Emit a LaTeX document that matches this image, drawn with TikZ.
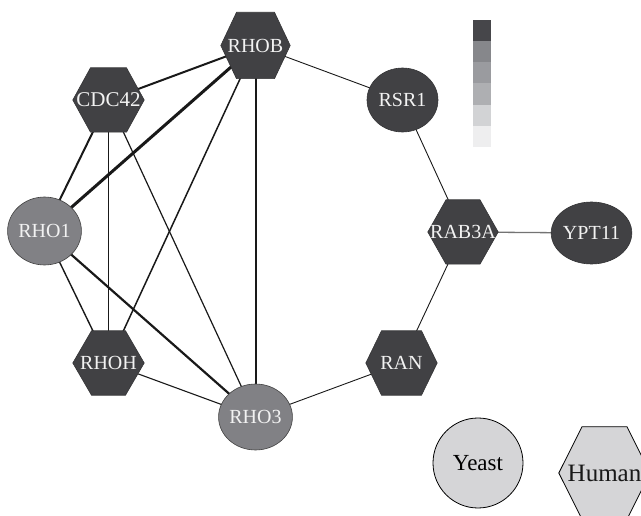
\documentclass[tikz,border=0pt]{standalone}
\usepackage{fontspec}
\setmainfont{Liberation Serif}
\usetikzlibrary{shapes.geometric}
\pgfdeclarelayer{edges}
\pgfdeclarelayer{shapes}
\pgfsetlayers{edges,shapes,main}
\definecolor{darknode}{HTML}{414144}
\definecolor{midnode}{HTML}{818185}
\definecolor{lightnode}{HTML}{D5D5D7}
\definecolor{labelwhite}{HTML}{F2F2F2}
\definecolor{lgA}{HTML}{46464A}
\definecolor{lgB}{HTML}{86878B}
\definecolor{lgC}{HTML}{9A9B9F}
\definecolor{lgD}{HTML}{AEAFB2}
\definecolor{lgE}{HTML}{D2D3D5}
\definecolor{lgF}{HTML}{EEEEEF}
\tikzset{
  hexbox/.style={rectangle, inner sep=0pt, text=labelwhite, font=\fontsize{20}{20}\selectfont},
  hexfill/.style={fill=darknode, draw=darknode!80!black, line width=0.6pt},
  darkell/.style={ellipse, inner sep=0pt, fill=darknode, draw=darknode!80!black, line width=0.6pt, text=labelwhite, font=\fontsize{20}{20}\selectfont},
  midell/.style={ellipse, inner sep=0pt, fill=midnode, draw=black!75, line width=0.6pt, text=labelwhite, font=\fontsize{20}{20}\selectfont},
  edgeline/.style={draw=black!90, line cap=round},
}
% #1 name, #2 x, #3 y, #4 width, #5 height, #6 half top edge, #7 label
\newcommand\hexnode[7]{%
  \node[hexbox, minimum width=#4pt, minimum height=#5pt] (#1) at (#2,#3) {#7};
  \begin{pgfonlayer}{shapes}
    \filldraw[hexfill] (#1.west) -- ([xshift=-#6pt]#1.north) -- ([xshift=#6pt]#1.north)
      -- (#1.east) -- ([xshift=#6pt]#1.south) -- ([xshift=-#6pt]#1.south) -- cycle;
  \end{pgfonlayer}}
\begin{document}
\begin{tikzpicture}[x=1pt, y=-1pt]
\useasboundingbox (0,0) rectangle (641,516);

% hexagon nodes
\hexnode{RHOB}{255.5}{45.5}{69}{66}{19}{RHOB}
\hexnode{CDC42}{108.5}{100}{71}{64}{18}{\fontsize{21}{21}\selectfont CDC42}
\hexnode{RHOH}{108.5}{363}{71}{64}{17}{RHOH}
\hexnode{RAB3A}{463}{232}{70}{64}{17}{RAB3A}
\hexnode{RAN}{401.5}{363}{71}{64}{20}{RAN}

% ellipse nodes
\node[midell, minimum width=66pt, minimum height=68pt] (RHO1) at (44.5,231) {RHO1};
\node[midell, minimum width=70pt, minimum height=66pt] (RHO3) at (255.5,417) {RHO3};
\node[darkell, minimum width=71pt, minimum height=64pt] (RSR1) at (402.5,100) {RSR1};
\node[darkell, minimum width=69pt, minimum height=62pt] (YPT11) at (591.5,233) {YPT11};

% edges
\begin{pgfonlayer}{edges}
  \draw[edgeline, line width=0.9pt] (RHOB.center) -- (RSR1.center);
  \draw[edgeline, line width=0.9pt] (RSR1.center) -- (RAB3A.center);
  \draw[edgeline, draw=black!55, line width=1.3pt] (RAB3A.center) -- (YPT11.center);
  \draw[edgeline, line width=0.9pt] (RAB3A.center) -- (RAN.center);
  \draw[edgeline, line width=0.9pt] (RAN.center) -- (RHO3.center);
  \draw[edgeline, line width=1.1pt] (RHO3.center) -- (RHOH.center);
  \draw[edgeline, line width=1.4pt] (RHOH.center) -- (RHO1.center);
  \draw[edgeline, line width=2pt] (RHO1.center) -- (CDC42.center);
  \draw[edgeline, line width=2pt] (CDC42.center) -- (RHOB.center);
  \draw[edgeline, line width=3pt] (RHO1.center) -- (RHOB.center);
  \draw[edgeline, line width=1.9pt] (CDC42.center) -- (RHOH.center);
  \draw[edgeline, line width=1.2pt] (CDC42.center) -- (RHO3.center);
  \draw[edgeline, line width=1.5pt] (RHOB.center) -- (RHOH.center);
  \draw[edgeline, line width=2pt] (RHOB.center) -- (RHO3.center);
  \draw[edgeline, line width=2.2pt] (RHO1.center) -- (RHO3.center);
\end{pgfonlayer}

% legend bar
\fill[lgA] (473,20) rectangle (491,41.2);
\fill[lgB] (473,41.2) rectangle (491,62.3);
\fill[lgC] (473,62.3) rectangle (491,83.5);
\fill[lgD] (473,83.5) rectangle (491,104.7);
\fill[lgE] (473,104.7) rectangle (491,125.8);
\fill[lgF] (473,125.8) rectangle (491,147);

% key
\node[circle, inner sep=0pt, minimum size=90pt, fill=lightnode, draw=black, line width=0.8pt,
      font=\fontsize{23}{23}\selectfont] (Yeast) at (478,463) {Yeast};
\node[hexbox, minimum width=91pt, minimum height=92pt, text=black!90,
      font=\fontsize{25}{25}\selectfont] (Human) at (604.5,473) {Human};
\begin{pgfonlayer}{shapes}
  \filldraw[fill=lightnode, draw=black, line width=0.8pt] (Human.west) -- ([xshift=-22.5pt]Human.north)
    -- ([xshift=22.5pt]Human.north) -- (Human.east) -- ([xshift=22.5pt]Human.south)
    -- ([xshift=-22.5pt]Human.south) -- cycle;
\end{pgfonlayer}
\end{tikzpicture}
\end{document}
